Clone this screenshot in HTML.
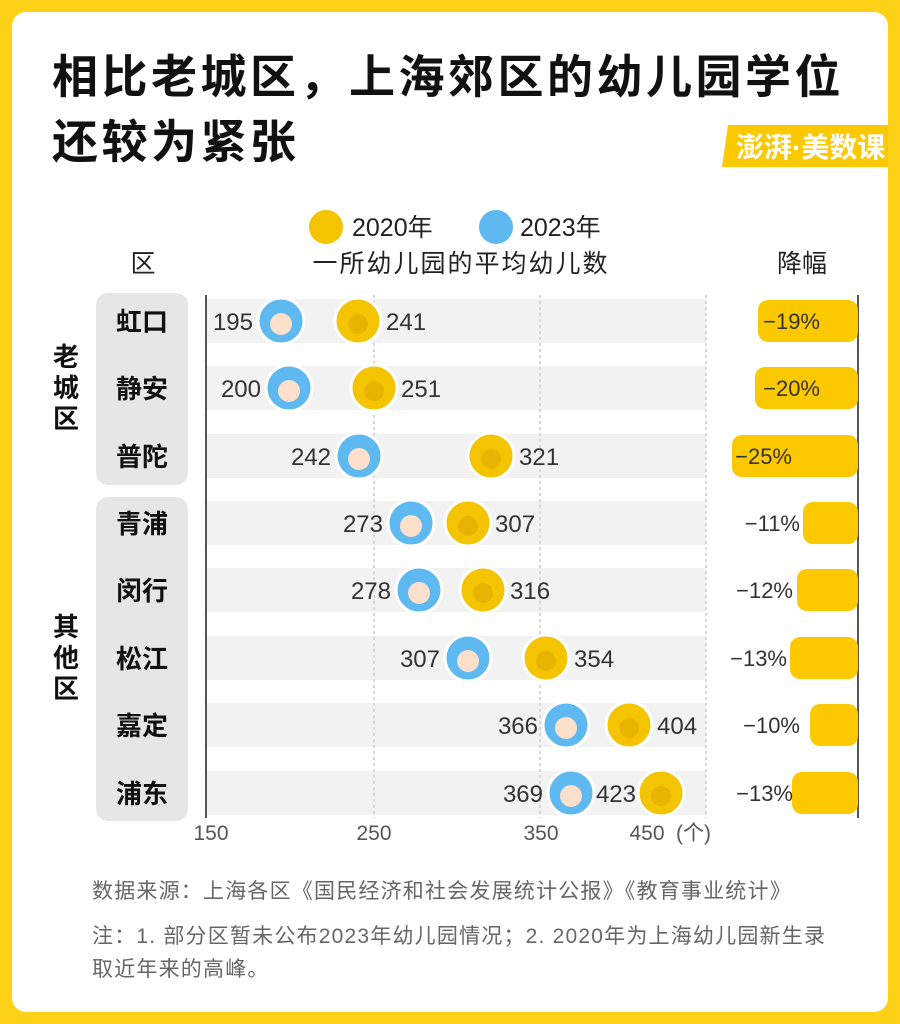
<!DOCTYPE html>
<html><head><meta charset="utf-8"><style>
body{margin:0;width:900px;height:1024px;background:#fcd116;overflow:hidden}
svg{display:block}
text{font-family:"Liberation Sans","Noto Sans CJK SC",sans-serif}
</style></head><body>
<svg width="900" height="1024" viewBox="0 0 900 1024">
<rect x="0" y="0" width="900" height="1024" fill="#fcd116"/>
<rect x="12" y="12" width="876" height="1000" rx="14" fill="#fff"/>
<text x="52" y="93" font-size="46" letter-spacing="3.5" font-weight="bold" fill="#111" font-family="Noto Sans CJK SC,sans-serif">相比老城区，上海郊区的幼儿园学位</text>
<text x="52" y="158" font-size="46" letter-spacing="3.5" font-weight="bold" fill="#111" font-family="Noto Sans CJK SC,sans-serif">还较为紧张</text>
<path d="M728 125 H888 V167 H722 Z" fill="#fcc800"/>
<text x="736" y="157" font-size="28" font-weight="bold" fill="#fff" font-family="Noto Sans CJK SC,sans-serif">澎湃·美数课</text>
<!-- legend -->
<circle cx="326" cy="227" r="18" fill="#f5c400" stroke="#fff" stroke-width="2"/>
<text x="352" y="236" font-size="25" fill="#222" font-family="Noto Sans CJK SC,sans-serif">2020年</text>
<circle cx="496" cy="227" r="18" fill="#5db9f0" stroke="#fff" stroke-width="2"/>
<text x="520" y="236" font-size="25" fill="#222" font-family="Noto Sans CJK SC,sans-serif">2023年</text>
<text x="461" y="272" font-size="25" letter-spacing="2" fill="#222" text-anchor="middle" font-family="Noto Sans CJK SC,sans-serif">一所幼儿园的平均幼儿数</text>
<text x="143" y="272" font-size="25" fill="#222" text-anchor="middle" font-family="Noto Sans CJK SC,sans-serif">区</text>
<text x="802" y="272" font-size="25" fill="#222" text-anchor="middle" font-family="Noto Sans CJK SC,sans-serif">降幅</text>
<!-- group bg -->
<rect x="96" y="293" width="92" height="192" rx="12" fill="#e6e6e6"/>
<rect x="96" y="497" width="92" height="324" rx="12" fill="#e6e6e6"/>
<g font-size="26" fill="#111" font-weight="bold" font-family="Noto Sans CJK SC,sans-serif" text-anchor="middle">
<text x="66" y="366">老</text><text x="66" y="397">城</text><text x="66" y="428">区</text>
<text x="66" y="636">其</text><text x="66" y="667">他</text><text x="66" y="698">区</text>
</g>
<!-- row bands -->
<g fill="#f2f2f2">
<rect x="206" y="299" width="500" height="44"/><rect x="206" y="366" width="500" height="44"/>
<rect x="206" y="434" width="500" height="44"/><rect x="206" y="501" width="500" height="44"/>
<rect x="206" y="568" width="500" height="44"/><rect x="206" y="636" width="500" height="44"/>
<rect x="206" y="703" width="500" height="44"/><rect x="206" y="771" width="500" height="44"/>
</g>
<g stroke="#ccc" stroke-dasharray="3,3" stroke-width="1.5">
<line x1="374" y1="295" x2="374" y2="818"/><line x1="540" y1="295" x2="540" y2="818"/><line x1="706" y1="295" x2="706" y2="818"/>
</g>
<line x1="206" y1="295" x2="206" y2="818" stroke="#555" stroke-width="2"/>
<line x1="858" y1="295" x2="858" y2="818" stroke="#555" stroke-width="2"/>
<g font-size="21" fill="#555" text-anchor="middle">
<text x="211" y="840">150</text><text x="374" y="840">250</text><text x="541" y="840">350</text><text x="647" y="840">450</text>
</g>
<text x="676" y="840" font-size="21" fill="#555" font-family="Noto Sans CJK SC,sans-serif">(个)</text>
<!-- district names -->
<g font-size="26" font-weight="bold" fill="#111" text-anchor="middle" font-family="Noto Sans CJK SC,sans-serif">
<text x="142" y="331">虹口</text><text x="142" y="398">静安</text><text x="142" y="466">普陀</text>
<text x="142" y="533">青浦</text><text x="142" y="600">闵行</text><text x="142" y="668">松江</text>
<text x="142" y="735">嘉定</text><text x="142" y="803">浦东</text>
</g>
<!-- bars -->
<g fill="#fcc800">
<rect x="758" y="300" width="100" height="42" rx="10"/>
<rect x="755" y="367" width="103" height="42" rx="10"/>
<rect x="732" y="435" width="126" height="42" rx="10"/>
<rect x="803" y="502" width="55" height="42" rx="10"/>
<rect x="797" y="569" width="61" height="42" rx="10"/>
<rect x="790" y="637" width="68" height="42" rx="10"/>
<rect x="810" y="704" width="48" height="42" rx="10"/>
<rect x="792" y="772" width="66" height="42" rx="10"/>
</g>
<g font-size="22" fill="#333" text-anchor="end">
<text x="820" y="329">−19%</text><text x="820" y="396">−20%</text><text x="792" y="464">−25%</text>
<text x="800" y="531">−11%</text><text x="793" y="598">−12%</text><text x="787" y="666">−13%</text>
<text x="800" y="733">−10%</text><text x="793" y="801">−13%</text>
</g>
<!-- dots -->
<g stroke="#fff" stroke-width="3">
<g fill="#5db9f0">
<circle cx="281" cy="321" r="23"/><circle cx="289" cy="388" r="23"/><circle cx="359" cy="456" r="23"/>
<circle cx="411" cy="523" r="23"/><circle cx="419" cy="590" r="23"/><circle cx="468" cy="658" r="23"/>
<circle cx="566" cy="725" r="23"/><circle cx="571" cy="793" r="23"/>
</g>
<g fill="#f5c400">
<circle cx="358" cy="321" r="23"/><circle cx="374" cy="388" r="23"/><circle cx="491" cy="456" r="23"/>
<circle cx="468" cy="523" r="23"/><circle cx="483" cy="590" r="23"/><circle cx="546" cy="658" r="23"/>
<circle cx="629" cy="725" r="23"/><circle cx="661" cy="793" r="23"/>
</g>
</g>
<g fill="#fde0cc">
<circle cx="281" cy="324" r="11"/><circle cx="289" cy="391" r="11"/><circle cx="359" cy="459" r="11"/>
<circle cx="411" cy="526" r="11"/><circle cx="419" cy="593" r="11"/><circle cx="468" cy="661" r="11"/>
<circle cx="566" cy="728" r="11"/><circle cx="571" cy="796" r="11"/>
</g>
<g fill="#e8b400">
<circle cx="358" cy="324" r="10"/><circle cx="374" cy="391" r="10"/><circle cx="491" cy="459" r="10"/>
<circle cx="468" cy="526" r="10"/><circle cx="483" cy="593" r="10"/><circle cx="546" cy="661" r="10"/>
<circle cx="629" cy="728" r="10"/><circle cx="661" cy="796" r="10"/>
</g>
<g font-size="24" fill="#333">
<g text-anchor="end">
<text x="253" y="330">195</text><text x="261" y="397">200</text><text x="331" y="465">242</text>
<text x="383" y="532">273</text><text x="391" y="599">278</text><text x="440" y="667">307</text>
<text x="538" y="734">366</text><text x="543" y="802">369</text><text x="636" y="802">423</text>
</g>
<text x="386" y="330">241</text><text x="401" y="397">251</text><text x="519" y="465">321</text>
<text x="495" y="532">307</text><text x="510" y="599">316</text><text x="574" y="667">354</text>
<text x="657" y="734">404</text>
</g>
<g font-size="21" letter-spacing="1.2" fill="#666" font-family="Noto Sans CJK SC,sans-serif">
<text x="92" y="898">数据来源：上海各区《国民经济和社会发展统计公报》《教育事业统计》</text>
<text x="92" y="943">注：1. 部分区暂未公布2023年幼儿园情况；2. 2020年为上海幼儿园新生录</text>
<text x="92" y="976">取近年来的高峰。</text>
</g>
</svg>
</body></html>
